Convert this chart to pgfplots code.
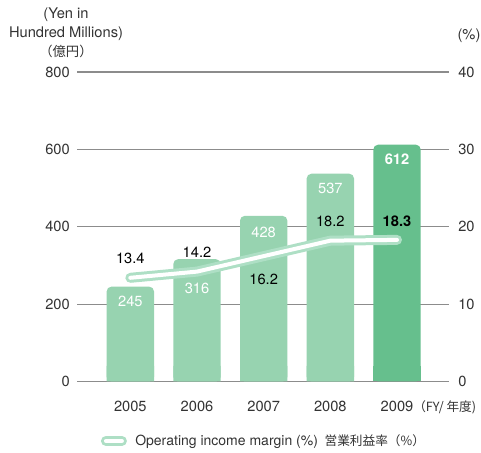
\documentclass[border=0pt]{standalone}
\usepackage{pgfplots}
\usepackage{pgfplotstable}
\pgfplotsset{compat=1.18}
\usepackage{fontspec}
\setmainfont{TeX Gyre Heros}
\newfontfamily\cjk{Noto Sans CJK JP}

\definecolor{barlight}{HTML}{97D3B0}
\definecolor{bardark}{HTML}{66BF8D}
\definecolor{lineout}{HTML}{AEDFC5}
\definecolor{gridgray}{HTML}{8C8C8C}
\definecolor{ticktext}{HTML}{333333}

% revenue (100 million yen); dy = label offset below the bar top, pt
\pgfplotstableread{
x rev dy
0 245 -6.75
1 316 -17.5
2 428 -8.25
3 537 -6.5
}\revlight
\pgfplotstableread{
x rev dy
4 612 -6.5
}\revdark

% both axes share the same box
\pgfplotsset{
  chartbox/.style={
    at={(0,0)}, anchor=south west, scale only axis,
    width=279pt, height=232.1pt,
    xmin=-0.8, xmax=4.78,
    axis line style={draw=none}, major tick length=0pt,
    /pgf/number format/assume math mode=true,
    tick label style={font=\fontsize{11}{13}\selectfont, text=ticktext},
  },
  barlabel/.style={
    visualization depends on=\thisrow{dy} \as \labdy,
    every node near coord/.append style={
      anchor=north, inner sep=0pt, yshift=\labdy pt, text=white,
      font=\fontsize{11}{13}\selectfont}},
}

\begin{document}
\begin{tikzpicture}
\useasboundingbox (-57.75pt,-53.6pt) rectangle (303pt,286.1pt);

% revenue bars, left scale
\begin{axis}[chartbox,
  ymin=0, ymax=800, ytick={0,200,...,800},
  ymajorgrids, grid style={gridgray, line width=0.8pt},
  xtick={0,...,4},
  xticklabels={2005,2006,2007,2008,{2009\rlap{\cjk\fontsize{9.5}{12}\selectfont （FY/ 年度)}}},
  xticklabel style={anchor=base, inner sep=0pt, yshift=-22.6pt},
  yticklabel style={anchor=east, inner sep=0pt, xshift=-5.25pt},
  ytick pos=left, xtick pos=bottom,
]
  \addplot[ybar, bar shift=0pt, bar width=0.71, fill=barlight, draw=none,
    rounded corners=3.5pt, nodes near coords, barlabel]
    table[x=x, y=rev] {\revlight};
  % square off the bottom corners
  \addplot[ybar, bar shift=0pt, bar width=0.71, fill=barlight, draw=none,
    y filter/.expression={min(y,40)}]
    table[x=x, y=rev] {\revlight};

  \addplot[ybar, bar shift=0pt, bar width=0.71, fill=bardark, draw=none,
    rounded corners=3.5pt, nodes near coords, barlabel,
    every node near coord/.append style={font=\fontsize{11}{13}\selectfont\bfseries}]
    table[x=x, y=rev] {\revdark};
  \addplot[ybar, bar shift=0pt, bar width=0.71, fill=bardark, draw=none,
    y filter/.expression={min(y,40)}]
    table[x=x, y=rev] {\revdark};
\end{axis}

% operating income margin, right scale
\begin{axis}[chartbox,
  ymin=0, ymax=40, ytick={0,10,...,40},
  hide x axis, axis y line*=right,
  yticklabel style={anchor=west, inner sep=0pt, xshift=6.75pt},
  legend style={at={(axis description cs:0,0)}, anchor=west,
    xshift=17.75pt, yshift=-44.6pt, draw=none, fill=none, inner sep=0pt,
    nodes={inner sep=0pt, font=\fontsize{10.5}{12}\selectfont, text=ticktext},
    /tikz/every odd column/.append style={column sep=6.25pt}},
]
  \addplot[lineout, line width=7.5pt, line cap=round, line join=round, forget plot]
    coordinates {(0,13.4) (1,14.2) (2,16.2) (3,18.2) (4,18.3)};
  \addplot[white, line width=3pt, line cap=round, line join=round, forget plot]
    coordinates {(0,13.4) (1,14.2) (2,16.2) (3,18.2) (4,18.3)};

  \addplot[draw=none, forget plot, nodes near coords, point meta=explicit symbolic,
    every node near coord/.append style={anchor=center, inner sep=0pt, yshift=14.25pt,
      text=black, font=\fontsize{11}{13}\selectfont}]
    coordinates {(0,13.4)[13.4] (1,14.2)[14.2] (3,18.2)[18.2] (4,18.3)[\textbf{18.3}]};
  \addplot[draw=none, forget plot, nodes near coords, point meta=explicit symbolic,
    every node near coord/.append style={anchor=center, inner sep=0pt, yshift=-17.25pt,
      text=black, font=\fontsize{11}{13}\selectfont}]
    coordinates {(2,16.2)[16.2]};

  \addlegendimage{legend image code/.code={
    \draw[lineout, line width=7.5pt, line cap=round] (0pt,0pt) -- (12pt,0pt);
    \draw[white, line width=3pt, line cap=round] (0pt,0pt) -- (12pt,0pt);}}
  \addlegendentry{Operating income margin (\%)\hspace{5pt}{\cjk\fontsize{9.5}{11}\selectfont 営業利益率（\%）}}
\end{axis}

% unit captions
\begin{scope}[font=\fontsize{11}{13}\selectfont, text=ticktext]
  \node[anchor=base] at (-8.25pt,272.25pt) {(Yen in};
  \node[anchor=base] at (-8.25pt,257.85pt) {Hundred Millions)};
  \node[anchor=base] at (-8.25pt,243.75pt) {\cjk\fontsize{10}{12}\selectfont （億円）};
  \node[anchor=base] at (294pt,256.5pt) {(\%)};
\end{scope}
\end{tikzpicture}
\end{document}
